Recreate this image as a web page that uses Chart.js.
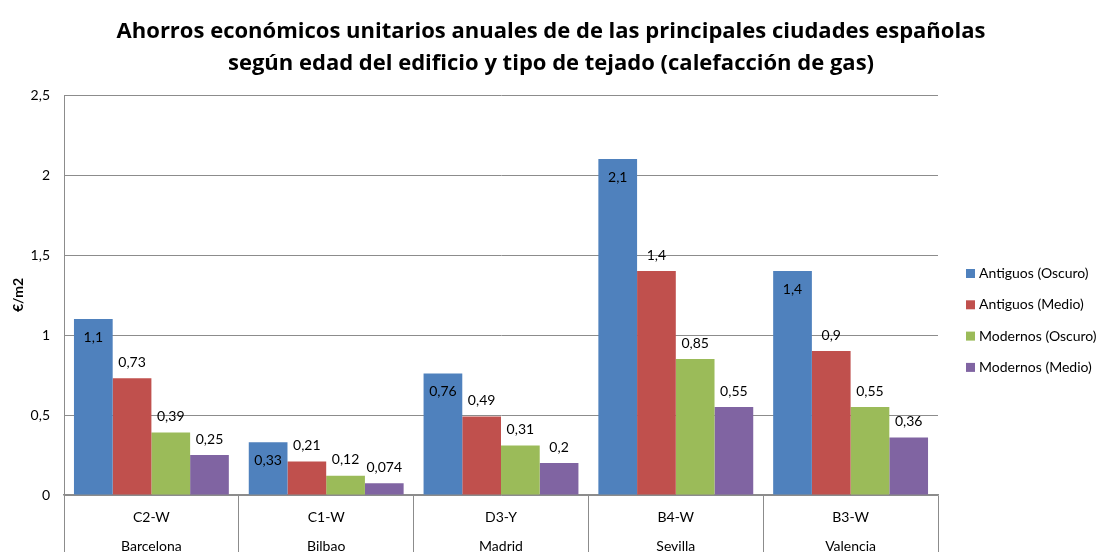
<!DOCTYPE html>
<html>
<head>
<meta charset="utf-8">
<script src="https://cdn.jsdelivr.net/npm/chart.js@4.4.0/dist/chart.umd.min.js"></script>
<style>
  html, body { margin: 0; padding: 0; background: #fff; }
  #wrap { width: 1102px; height: 552px; }
</style>
</head>
<body>
<div id="wrap"><canvas id="c" width="1102" height="552"></canvas></div>
<script>
// Climate zone per city and the city names (two-row category axis)
const zones = ['C2-W', 'C1-W', 'D3-Y', 'B4-W', 'B3-W'];
const cities = ['Barcelona', 'Bilbao', 'Madrid', 'Sevilla', 'Valencia'];

// Series names
const seriesNames = ['Antiguos (Oscuro)', 'Antiguos (Medio)', 'Modernos (Oscuro)', 'Modernos (Medio)'];

// Annual unit savings, €/m2
const antiguosOscuro = [1.1, 0.33, 0.76, 2.1, 1.4];
const antiguosMedio  = [0.73, 0.21, 0.49, 1.4, 0.9];
const modernosOscuro = [0.39, 0.12, 0.31, 0.85, 0.55];
const modernosMedio  = [0.25, 0.074, 0.2, 0.55, 0.36];

// Value axis ticks
const yTicks = [0, 0.5, 1, 1.5, 2, 2.5];

const seriesColors = ['#4f81bd', '#c0504d', '#9bbb59', '#8064a2'];
const FONT = 'Lato, "Open Sans", sans-serif';
const TITLE_FONT = '"Open Sans", Lato, sans-serif';
const GRID = '#8c8c8c';

const fmt = v => String(v).replace('.', ',');

// Value labels: first series inside the bar top, the others just above the bar
const valueLabels = {
  id: 'valueLabels',
  afterDatasetsDraw(chart) {
    const ctx = chart.ctx;
    ctx.save();
    ctx.font = '14px ' + FONT;
    ctx.fillStyle = '#000';
    ctx.textAlign = 'center';
    ctx.textBaseline = 'middle';
    chart.data.datasets.forEach((ds, i) => {
      const meta = chart.getDatasetMeta(i);
      meta.data.forEach((bar, j) => {
        const y = i === 0 ? bar.y + 18 : bar.y - 16;
        ctx.fillText(fmt(ds.data[j]), bar.x, y);
      });
    });
    ctx.restore();
  }
};

// Series key: a layout box on the right of the plot, built from the datasets
const sideLegend = {
  id: 'sideLegend',
  start(chart) {
    const box = {
      position: 'right',
      weight: 1000,
      fullSize: false,
      options: { stackWeight: 1 },
      left: 0, top: 0, right: 0, bottom: 0, width: 0, height: 0,
      isHorizontal() { return false; },
      update(maxWidth, maxHeight) {
        this.width = 164;
        this.height = maxHeight;
      },
      draw() {
        const ctx = chart.ctx;
        const x = this.left + 28;
        const firstRow = 273.5;
        const rowStep = 31.3;
        const sq = 9;
        ctx.save();
        ctx.font = '14px ' + FONT;
        ctx.textAlign = 'left';
        ctx.textBaseline = 'middle';
        chart.data.datasets.forEach((ds, i) => {
          const y = firstRow + i * rowStep;
          ctx.fillStyle = ds.backgroundColor;
          ctx.fillRect(x, y - sq / 2, sq, sq);
          ctx.fillStyle = '#000';
          ctx.fillText(ds.label, x + sq + 4, y);
        });
        ctx.restore();
      }
    };
    Chart.layouts.addBox(chart, box);
  }
};

const seriesData = [antiguosOscuro, antiguosMedio, modernosOscuro, modernosMedio];

new Chart(document.getElementById('c'), {
  type: 'bar',
  data: {
    labels: zones.map((z, i) => [z, cities[i]]),
    datasets: seriesNames.map((name, i) => ({
      label: name,
      data: seriesData[i],
      backgroundColor: seriesColors[i],
      borderWidth: 0,
      barPercentage: 1,
      categoryPercentage: 0.886
    }))
  },
  options: {
    responsive: false,
    animation: false,
    layout: { padding: 0 },
    plugins: {
      title: {
        display: true,
        text: ['Ahorros económicos unitarios anuales de de las principales ciudades españolas',
               'según edad del edificio y tipo de tejado (calefacción de gas)'],
        font: { family: TITLE_FONT, size: 22, weight: 'bold', lineHeight: 1.48 },
        color: '#000',
        padding: { top: 15, bottom: 14.9 }
      },
      legend: { display: false },
      tooltip: { enabled: false }
    },
    scales: {
      x: {
        grid: { offset: true, drawOnChartArea: false, tickLength: 60, color: GRID },
        border: { color: GRID, width: 1.5 },
        ticks: {
          padding: -52,
          color: '#000',
          autoSkip: false,
          maxRotation: 0,
          font: { family: FONT, size: 14, lineHeight: 2.07 }
        },
        afterFit(s) { s.height = 57; }
      },
      y: {
        min: 0,
        max: 2.5,
        afterBuildTicks(s) { s.ticks = yTicks.map(v => ({ value: v })); },
        grid: { color: GRID, drawTicks: false },
        border: { color: GRID },
        ticks: {
          padding: 14,
          color: '#000',
          font: { family: FONT, size: 14 },
          callback: v => fmt(v)
        },
        title: {
          display: true,
          text: '€/m2',
          color: '#000',
          font: { family: FONT, size: 14, weight: 'bold' },
          padding: { top: 10, bottom: 0 }
        },
        afterFit(s) { s.width = 64; }
      }
    }
  },
  plugins: [valueLabels, sideLegend]
});
</script>
</body>
</html>
